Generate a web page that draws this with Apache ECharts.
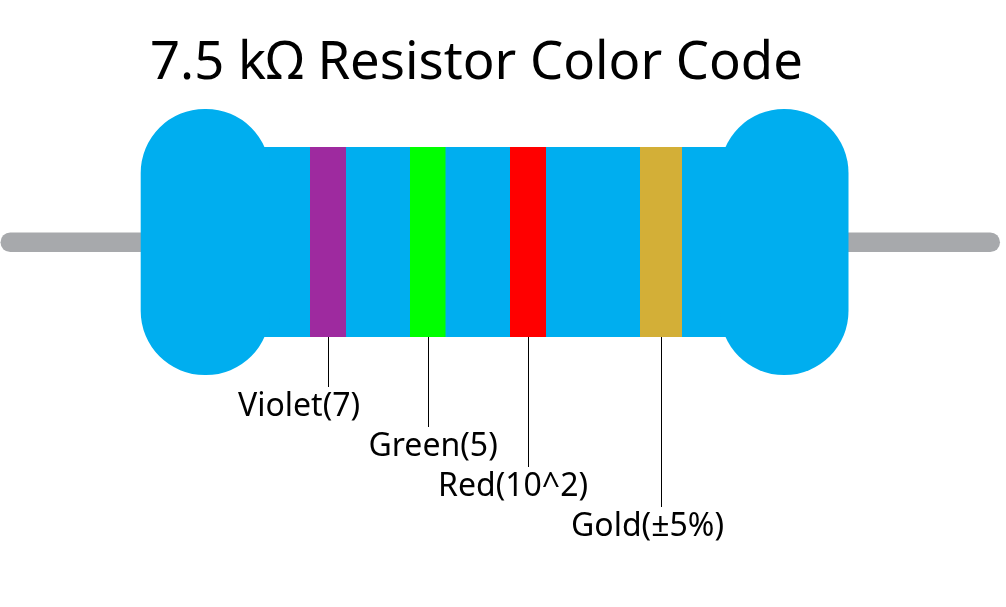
<!DOCTYPE html>
<html><head><meta charset="utf-8">
<style>html,body{margin:0;padding:0;background:#fff}#c{width:1006px;height:607px}</style>
<script src="https://cdn.jsdelivr.net/npm/echarts@6/dist/echarts.min.js"></script>
</head><body><div id="c"></div>
<script>
const titleText = '7.5 kΩ Resistor Color Code';
const labels = ['Violet(7)', 'Green(5)', 'Red(10^2)', 'Gold(±5%)'];
const bandStart = [310, 410, 510, 640];
const bandEnd = [346, 445.5, 546, 682];
const bandColors = ['#9E2A9F', '#00FF00', '#FF0000', '#D3AF37'];
const leaderX = [328.5, 428.5, 528.5, 661.5];
const leaderEnd = [387, 427, 467, 507];
const labelX = [238, 368.5, 438, 571];
const labelY = [407, 447, 487, 527];
const bodyRange = [[264, 147, 727, 337]];
const capRange = [[140.7, 109, 270, 375], [720, 109, 848.5, 375]];
const leadRange = [[0.5, 232.5, 160, 252], [830, 232.5, 1000, 252]];

const BLUE = '#00AEEF', LEAD = '#A7A9AC';
const FONT = '"Noto Sans", sans-serif';

function rectOf(api, rad) {
  const a = api.coord([api.value(0), api.value(1)]);
  const b = api.coord([api.value(2), api.value(3)]);
  const shape = { x: a[0], y: a[1], width: b[0] - a[0], height: b[1] - a[1] };
  if (rad) shape.r = rad;
  return shape;
}
function rectSeries(data, color, rad, z) {
  return {
    type: 'custom', z: z, silent: true, clip: false, data: data,
    encode: { x: [0, 2], y: [1, 3] },
    renderItem: (p, api) => ({ type: 'rect', shape: rectOf(api, rad), style: { fill: color } })
  };
}

const chart = echarts.init(document.getElementById('c'), null, { renderer: 'canvas' });
chart.setOption({
  animation: false,
  backgroundColor: '#fff',
  title: {
    text: titleText, left: 145, top: 33,
    textStyle: { fontFamily: FONT, fontSize: 52.6, fontWeight: 'normal', color: '#000' }
  },
  tooltip: { show: false },
  grid: { left: 0, right: 0, top: 0, bottom: 0 },
  xAxis: { type: 'value', min: 0, max: 1006, show: false },
  yAxis: { type: 'value', min: 0, max: 607, inverse: true, show: false },
  series: [
    rectSeries(leadRange, LEAD, 9.75, 1),
    rectSeries(bodyRange, BLUE, 0, 2),
    rectSeries(capRange, BLUE, 64, 3),
    {
      type: 'custom', z: 4, silent: true, clip: false,
      data: labels.map((_, i) => [bandStart[i], 147, bandEnd[i], 337, i]),
      encode: { x: [0, 2], y: [1, 3] },
      renderItem: (p, api) => ({
        type: 'rect', shape: rectOf(api), style: { fill: bandColors[api.value(4)] }
      })
    },
    {
      type: 'custom', z: 5, silent: true, clip: false,
      data: labels.map((_, i) => [leaderX[i], 337, leaderEnd[i]]),
      encode: { x: 0, y: [1, 2] },
      renderItem: (p, api) => {
        const a = api.coord([api.value(0), api.value(1)]);
        const b = api.coord([api.value(0), api.value(2)]);
        return { type: 'line', shape: { x1: a[0], y1: a[1], x2: b[0], y2: b[1] },
                 style: { stroke: '#000', lineWidth: 1 } };
      }
    },
    {
      type: 'custom', z: 6, silent: true, clip: false,
      data: labels.map((t, i) => [labelX[i], labelY[i], t]),
      encode: { x: 0, y: 1 },
      renderItem: (p, api) => {
        const a = api.coord([api.value(0), api.value(1)]);
        return { type: 'text', x: a[0], y: a[1],
          style: { text: labels[p.dataIndex], fill: '#000', font: '32px ' + FONT,
                   textAlign: 'left', textVerticalAlign: 'middle' } };
      }
    }
  ]
});
</script></body></html>
